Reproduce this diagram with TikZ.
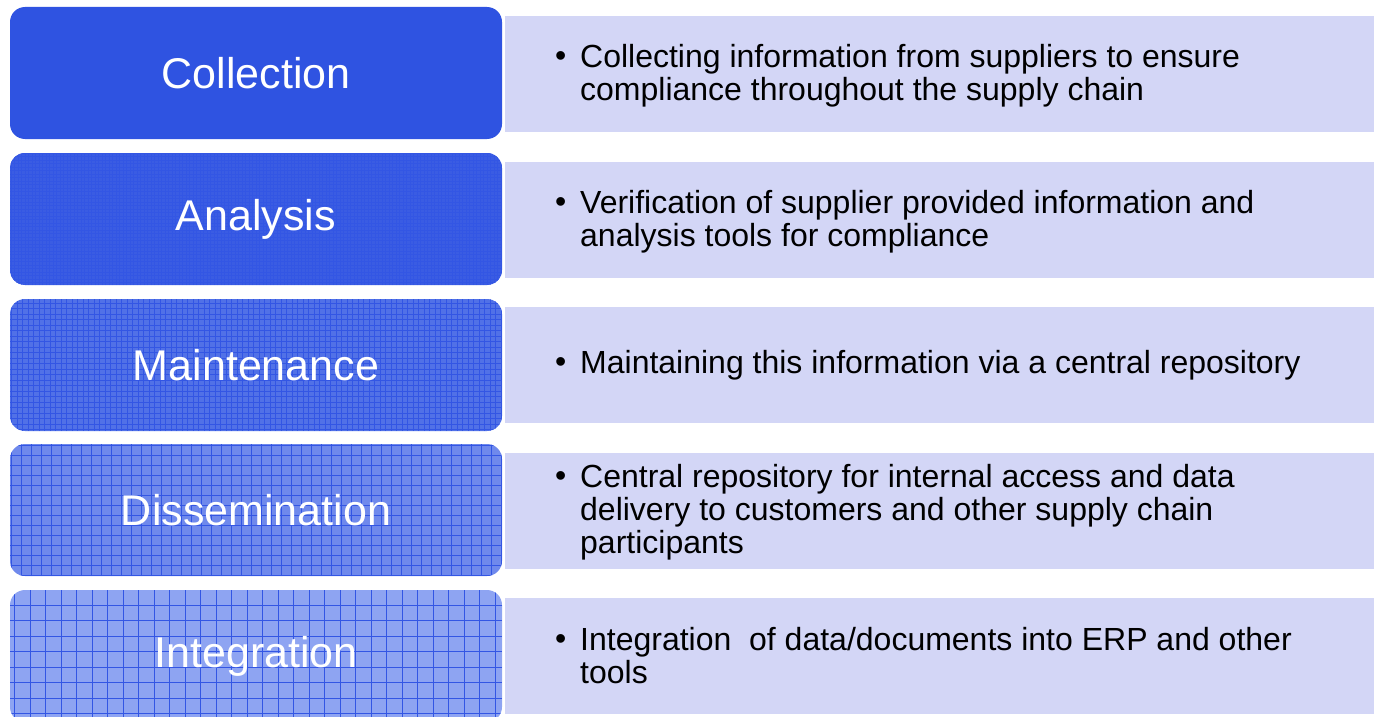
\documentclass[tikz,border=0pt]{standalone}
\usepackage{fontspec}
\setmainfont{Liberation Sans}
\usepackage{xcolor}
\usepackage{tikz}
\usetikzlibrary{positioning,calc}

\definecolor{collblue}{HTML}{2F53E1}
\definecolor{analblue}{HTML}{3A5CE3}
\definecolor{maintblue}{HTML}{5171E7}
\definecolor{dissblue}{HTML}{6F89EC}
\definecolor{integblue}{HTML}{8EA4F2}
\definecolor{gridblue}{HTML}{3356E4}
\definecolor{lavender}{HTML}{D3D6F6}

\tikzset{
    stagebox/.style={rectangle, rounded corners=15pt, minimum width=492pt,
        minimum height=132pt, inner sep=0pt, text=white,
        font=\fontsize{43}{48}\selectfont},
    descbox/.style={rectangle, fill=lavender, minimum width=880pt,
        minimum height=116pt, inner sep=0pt, anchor=west},
    desctext/.style={anchor=west, inner sep=0pt, align=left,
        font=\fontsize{32}{33}\selectfont},
    gridfill/.style={path picture={\draw[gridblue, line width=0.9pt, step=#1]
        (path picture bounding box.south west) grid
        (path picture bounding box.north east);}}
}
\newcommand{\bulletline}[1]{\makebox[25pt][l]{\raisebox{1pt}{\textbullet}}\parbox[t]{780pt}{#1}}

\begin{document}
\begin{tikzpicture}[x=1pt, y=1pt]
    \useasboundingbox (0,0) rectangle (1374,-717);

    % left column
    \node[stagebox, fill=collblue] (coll) at (256,-73) {Collection};
    \node[stagebox, fill=analblue, gridfill=3.5] (anal) at (256,-219) {Analysis};
    \node[stagebox, fill=maintblue, gridfill=5.5] (maint) at (256,-365) {Maintenance};
    \node[stagebox, fill=dissblue, gridfill=10] (diss) at (256,-510) {Dissemination};
    \node[stagebox, fill=integblue, gridfill=15.5] (integ) at (256,-656) {Integration};

    % right column
    \node[descbox] (collD) at (505,-74) {};
    \node[descbox] (analD) at (505,-220) {};
    \node[descbox] (maintD) at (505,-365) {};
    \node[descbox] (dissD) at (505,-511) {};
    \node[descbox] (integD) at (505,-656) {};

    \node[desctext] (collT) at (555,-76) {\bulletline{Collecting information from suppliers to ensure\\compliance throughout the supply chain}};
    \node[desctext] (analT) at (555,-222) {\bulletline{Verification of supplier provided information and\\analysis tools for compliance}};
    \node[desctext] (maintT) at (555,-365) {\bulletline{Maintaining this information via a central repository}};
    \node[desctext] (dissT) at (555,-512) {\bulletline{Central repository for internal access and data\\delivery to customers and other supply chain\\participants}};
    \node[desctext] (integT) at (555,-656) {\bulletline{Integration\ \ of data/documents into ERP and other\\tools}};
\end{tikzpicture}
\end{document}
